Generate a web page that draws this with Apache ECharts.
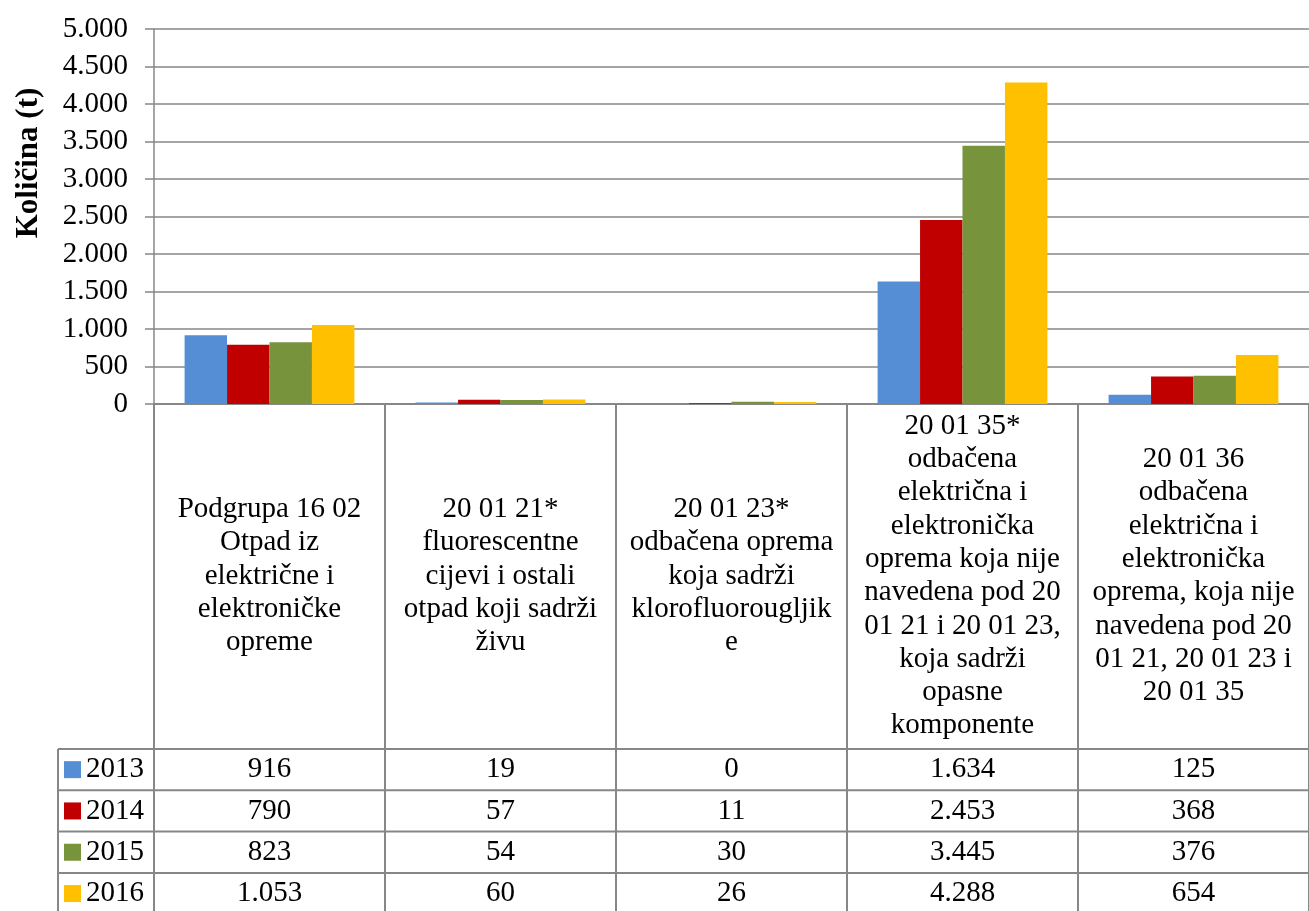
<!DOCTYPE html>
<html>
<head>
<meta charset="utf-8">
<script src="https://cdn.jsdelivr.net/npm/echarts@6/dist/echarts.min.js"></script>
<style>
  html, body { margin: 0; padding: 0; background: #fff; }
  #chart { width: 1309px; height: 911px; }
</style>
</head>
<body>
<div id="chart"></div>
<script>
  const categories = [
    'Podgrupa 16 02\nOtpad iz\nelektrične i\nelektroničke\nopreme',
    '20 01 21*\nfluorescentne\ncijevi i ostali\notpad koji sadrži\nživu',
    '20 01 23*\nodbačena oprema\nkoja sadrži\nklorofluorougljik\ne',
    '20 01 35*\nodbačena\nelektrična i\nelektronička\noprema koja nije\nnavedena pod 20\n01 21 i 20 01 23,\nkoja sadrži\nopasne\nkomponente',
    '20 01 36\nodbačena\nelektrična i\nelektronička\noprema, koja nije\nnavedena pod 20\n01 21, 20 01 23 i\n20 01 35'
  ]
  const years = ['2013', '2014', '2015', '2016']
  const v2013 = [916, 19, 0, 1634, 125]
  const v2014 = [790, 57, 11, 2453, 368]
  const v2015 = [823, 54, 30, 3445, 376]
  const v2016 = [1053, 60, 26, 4288, 654]
  const yMin = 0
  const yMax = 5000
  const yStep = 500

  const values = [v2013, v2014, v2015, v2016]
  const colors = ['#558ED5', '#C00000', '#77933C', '#FFC000']
  const font = '"Liberation Serif", "Times New Roman", serif'
  const lineColor = '#878787'

  // 1.053 style thousands separator
  const fmt = n => String(n).replace(/\B(?=(\d{3})+(?!\d))/g, '.')

  const chart = echarts.init(document.getElementById('chart'))

  const option = {
    animation: false,
    color: colors,
    textStyle: {fontFamily: font, color: '#000'},
    grid: {
      left: 154,
      top: 29,
      width: 1163,
      height: 375,
      containLabel: false
    },
    legend: {
      data: years,
      orient: 'vertical',
      left: 64,
      top: 749,
      width: 100,
      height: 200,
      padding: 0,
      itemGap: 0,
      itemWidth: 17,
      itemHeight: 17,
      icon: 'rect',
      selectedMode: false,
      textStyle: {fontFamily: font, fontSize: 29, lineHeight: 41.3, color: '#000'}
    },
    xAxis: {
      type: 'category',
      data: categories,
      axisLine: {show: true, lineStyle: {color: lineColor, width: 2}},
      axisTick: {show: true, length: 510, lineStyle: {color: lineColor, width: 2}},
      axisLabel: {
        interval: 0,
        margin: 172,
        verticalAlign: 'middle',
        align: 'center',
        fontFamily: font,
        fontSize: 29,
        lineHeight: 33.3,
        color: '#000'
      }
    },
    yAxis: {
      type: 'value',
      min: yMin,
      max: yMax,
      interval: yStep,
      axisLine: {show: true, lineStyle: {color: lineColor, width: 1.5}},
      axisTick: {show: true, length: 9, lineStyle: {color: lineColor, width: 1.5}},
      splitLine: {show: true, lineStyle: {color: lineColor, width: 1.5}},
      axisLabel: {
        margin: 26,
        fontFamily: font,
        fontSize: 29,
        color: '#000',
        formatter: v => fmt(v)
      }
    },
    series: years.map((y, i) => ({
      name: y,
      type: 'bar',
      data: values[i],
      barGap: '0%',
      barCategoryGap: '26.5%',
      itemStyle: {color: colors[i]}
    }))
  }
  chart.setOption(option)

  // data table under the axis
  const rowTop = 749
  const rowH = 41.3
  const graphics = []
  for (let r = 0; r <= years.length; r++) {
    const y = rowTop + r * rowH
    graphics.push({
      type: 'line',
      shape: {x1: 58, y1: y, x2: 1309, y2: y},
      style: {stroke: lineColor, lineWidth: 2}
    })
  }
  graphics.push({
    type: 'line',
    shape: {x1: 58, y1: rowTop, x2: 58, y2: 911},
    style: {stroke: lineColor, lineWidth: 2}
  })
  values.forEach((row, r) => {
    row.forEach((v, c) => {
      const x = chart.convertToPixel({xAxisIndex: 0}, c)
      graphics.push({
        type: 'text',
        x: x,
        y: rowTop + r * rowH + rowH / 2,
        style: {
          text: fmt(v),
          fontFamily: font,
          fontSize: 29,
          fill: '#000',
          align: 'center',
          verticalAlign: 'middle'
        }
      })
    })
  })
  graphics.push({
    type: 'text',
    x: 29,
    y: 163,
    rotation: Math.PI / 2,
    style: {
      text: 'Količina (t)',
      fontFamily: font,
      fontSize: 31,
      fontWeight: 'bold',
      fill: '#000',
      align: 'center',
      verticalAlign: 'middle'
    }
  })
  chart.setOption({graphic: graphics})

  window.addEventListener('resize', () => {
    chart.resize()
  })
</script>
</body>
</html>
